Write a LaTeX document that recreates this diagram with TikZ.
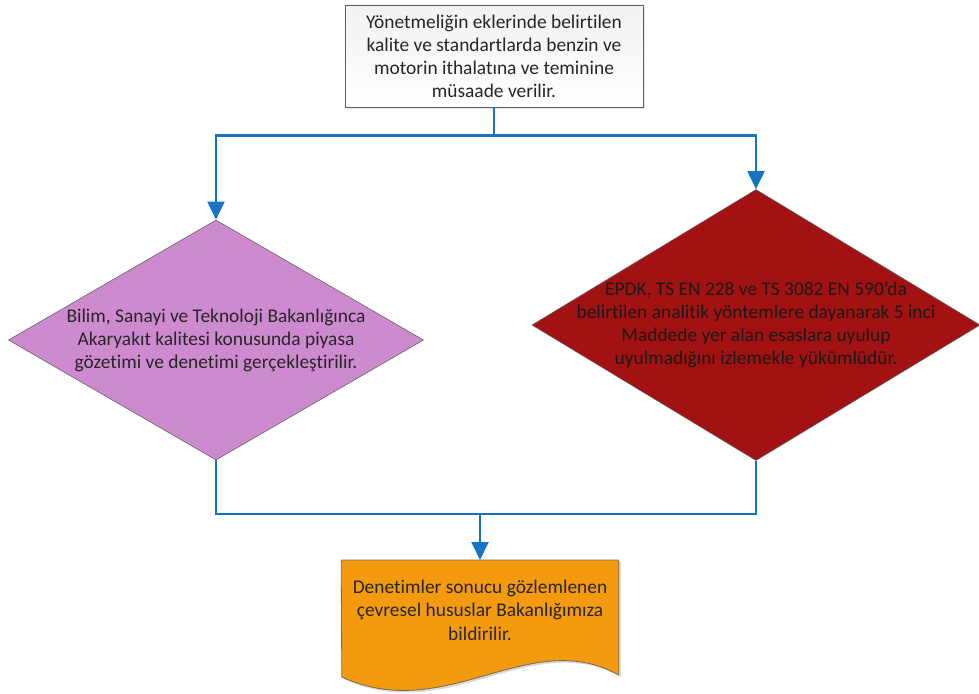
\documentclass[tikz,border=0pt]{standalone}
\usepackage{fontspec}
\setmainfont{Carlito}[Ligatures=NoCommon]
\usetikzlibrary{arrows.meta,shapes.geometric,shadows,backgrounds}
\definecolor{flowblue}{RGB}{23,115,195}
\definecolor{orchidfill}{RGB}{206,138,206}
\definecolor{epdkred}{RGB}{163,18,18}
\definecolor{docorange}{RGB}{243,154,14}
\definecolor{boxgray}{RGB}{242,242,242}
\definecolor{edgegray}{RGB}{95,95,95}

\tikzset{
  flow/.style={draw=flowblue, line width=1.8pt},
  txt/.style={font=\fontsize{13.8}{16.4}\selectfont, align=center, text=black!85},
  diam/.style={diamond, draw=edgegray, thin, inner sep=0pt},
}

\begin{document}
\begin{tikzpicture}[x=0.025cm, y=-0.025cm, >={Triangle[length=4.5mm, width=4.2mm]}]
\useasboundingbox (0,0) rectangle (979,693);

% start box
\node[txt, draw=edgegray, semithick, top color=boxgray, bottom color=white,
      drop shadow={opacity=0.2, shadow xshift=1.5pt, shadow yshift=-1.5pt},
      minimum width=7.45cm, minimum height=2.55cm] (start) at (494,56)
  {Yönetmeliğin eklerinde belirtilen\\kalite ve standartlarda benzin ve\\motorin ithalatına ve teminine\\müsaade verilir.};

% the two diamonds
\node[diam, fill=orchidfill, minimum width=10.375cm, minimum height=6cm] (bilim) at (216,340) {};
\node[txt] (bilimtxt) at (bilim) {Bilim, Sanayi ve Teknoloji Bakanlığınca\\Akaryakıt kalitesi konusunda piyasa\\gözetimi ve denetimi gerçekleştirilir.};

\node[diam, fill=epdkred, minimum width=11.2cm, minimum height=6.775cm] (epdk) at (756,325) {};
\node[txt, text=black!90] (epdktxt) at (epdk) {EPDK, TS EN 228 ve TS 3082 EN 590’da\\belirtilen analitik yöntemlere dayanarak 5 inci\\Maddede yer alan esaslara uyulup\\uyulmadığını izlemekle yükümlüdür.};

% document shape
\node[txt, minimum width=6.925cm, minimum height=2.5cm, anchor=north] (doc) at (480,560)
  {Denetimler sonucu gözlemlenen\\çevresel hususlar Bakanlığımıza\\bildirilir.};
\begin{scope}[on background layer]
\fill[black, opacity=0.15] ([xshift=1.5pt, yshift=-1.5pt]doc.north west) -- ([xshift=1.5pt, yshift=-1.5pt]doc.north east)
  -- ++(0,115) .. controls ++(-90,-50) and ++(105,48) .. ++(-277,2) -- cycle;
\filldraw[fill=docorange, draw=edgegray!80!docorange, semithick] (doc.north west) -- (doc.north east)
  -- ++(0,115) .. controls ++(-90,-50) and ++(105,48) .. ++(-277,2) -- cycle;
\end{scope}

% connectors
\coordinate (merge) at (480,514);
\draw[flow] (start.south) -- ++(0,28) coordinate (split);
\draw[flow, ->] (split) -| (bilim.north);
\draw[flow, ->] (split) -| (epdk.north);
\draw[flow] (bilim.south) |- (merge);
\draw[flow] (epdk.south) |- (merge);
\draw[flow, ->] (merge) -- (doc.north);
\end{tikzpicture}
\end{document}
